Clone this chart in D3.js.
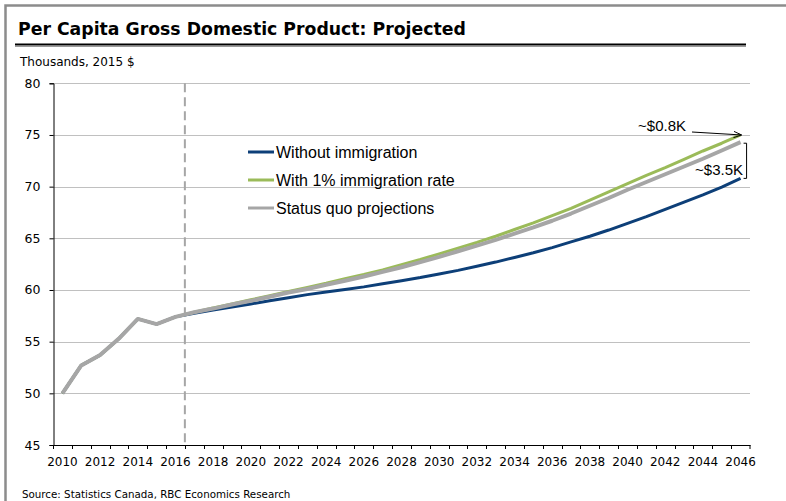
<!DOCTYPE html>
<html>
<head>
<meta charset="utf-8">
<script src="https://cdn.jsdelivr.net/npm/d3@7"></script>
<style>
  body { margin: 0; background: #fff; }
  text { font-family: "DejaVu Sans", sans-serif; }
  text.arial { font-family: "Liberation Sans", Arial, sans-serif; }
</style>
</head>
<body>
<div id="chart"></div>
<script>
// years on the category axis
var years = d3.range(2010, 2047);

// actuals 2010-2016, shared by all three lines
var actuals = [50.0, 52.7, 53.7, 55.3, 57.2, 56.7, 57.4];

// projections 2017-2046, thousands of 2015 $
var withoutImmigration = [57.75, 58.05, 58.35, 58.65, 58.95, 59.25, 59.55, 59.8, 60.05, 60.3,
    60.6, 60.9, 61.2, 61.55, 61.9, 62.3, 62.7, 63.15, 63.6, 64.1,
    64.65, 65.2, 65.8, 66.45, 67.1, 67.8, 68.5, 69.2, 69.95, 70.8];
var withImmigration = [57.85, 58.25, 58.65, 59.05, 59.45, 59.85, 60.25, 60.65, 61.1, 61.5,
    61.95, 62.45, 62.95, 63.5, 64.05, 64.6, 65.2, 65.85, 66.5, 67.2,
    67.9, 68.7, 69.5, 70.3, 71.1, 71.85, 72.65, 73.45, 74.2, 75.0];
var statusQuo = [57.85, 58.2, 58.6, 58.95, 59.35, 59.75, 60.1, 60.5, 60.9, 61.3,
    61.75, 62.2, 62.7, 63.2, 63.75, 64.3, 64.85, 65.45, 66.05, 66.7,
    67.4, 68.15, 68.9, 69.7, 70.45, 71.2, 71.95, 72.7, 73.5, 74.3];

var seriesNames = ["Without immigration", "With 1% immigration rate", "Status quo projections"];
var seriesColors = ["#0d3f78", "#9bbb59", "#a6a6a6"];
var seriesWidths = [3, 3, 4];
var yTicks = [45, 50, 55, 60, 65, 70, 75, 80];

var W = 786, H = 501;
var svg = d3.select("#chart").append("svg")
    .attr("width", W)
    .attr("height", H);

// outer frame (left + top)
svg.append("path")
    .attr("d", "M5.5," + H + "V5.5H" + W)
    .attr("fill", "none")
    .attr("stroke", "#8c8c8c")
    .attr("stroke-width", 2.5);

// title
svg.append("text")
    .attr("x", 18)
    .attr("y", 35)
    .attr("font-size", 17.3)
    .attr("font-weight", "bold")
    .attr("fill", "#000")
    .text("Per Capita Gross Domestic Product: Projected");

svg.append("line")
    .attr("x1", 15).attr("x2", 746)
    .attr("y1", 44.5).attr("y2", 44.5)
    .attr("stroke", "#000").attr("stroke-width", 2);
svg.append("line")
    .attr("x1", 15).attr("x2", 746)
    .attr("y1", 46.5).attr("y2", 46.5)
    .attr("stroke", "#999").attr("stroke-width", 1);

svg.append("text")
    .attr("x", 20)
    .attr("y", 66)
    .attr("font-size", 12)
    .text("Thousands, 2015 $");

svg.append("text")
    .attr("x", 22)
    .attr("y", 498)
    .attr("font-size", 10.3)
    .text("Source: Statistics Canada, RBC Economics Research");

// scales
var x = d3.scaleBand()
    .domain(years)
    .range([53, 750])
    .padding(0);
var y = d3.scaleLinear()
    .domain([45, 80])
    .range([445, 83.3]);
var cx = function(yr) { return x(yr) + x.bandwidth() / 2; };

// gridlines
svg.append("g")
    .selectAll("line")
    .data(yTicks.filter(function(t) { return t > 45; }))
    .enter().append("line")
        .attr("x1", 53).attr("x2", 750)
        .attr("y1", function(d) { return Math.round(y(d)) + 0.5; })
        .attr("y2", function(d) { return Math.round(y(d)) + 0.5; })
        .attr("stroke", "#c0c0c0")
        .attr("stroke-width", 1);

// projection start marker
svg.append("line")
    .attr("x1", x(2017)).attr("x2", x(2017))
    .attr("y1", y(80)).attr("y2", y(45))
    .attr("stroke", "#a6a6a6")
    .attr("stroke-width", 2)
    .attr("stroke-dasharray", "9,5");

// y axis
var yAxis = svg.append("g")
    .attr("transform", "translate(53.5,0)")
    .call(d3.axisLeft(y).tickValues(yTicks).tickSize(4).tickPadding(9));
yAxis.selectAll("text").attr("font-size", 12.5).attr("fill", "#000").attr("font-family", "DejaVu Sans");
yAxis.selectAll("line").attr("stroke", "#000");
yAxis.select(".domain").attr("stroke", "#000");

// x axis: labels every other year at category centres
var xAxis = svg.append("g")
    .attr("transform", "translate(0,445)")
    .call(d3.axisBottom(x)
        .tickValues(years.filter(function(d) { return d % 2 === 0; }))
        .tickSize(0)
        .tickPadding(12));
xAxis.selectAll("text").attr("font-size", 12).attr("fill", "#000").attr("font-family", "DejaVu Sans");
xAxis.select(".domain").attr("stroke", "#000");

// tick marks between categories
xAxis.selectAll(".bound")
    .data(years.concat([null]))
    .enter().append("line")
        .attr("class", "bound")
        .attr("x1", function(d) { return d === null ? 750 : Math.round(x(d)) + 0.5; })
        .attr("x2", function(d) { return d === null ? 750 : Math.round(x(d)) + 0.5; })
        .attr("y1", 0).attr("y2", 4)
        .attr("stroke", "#000");

// lines
var allSeries = [withoutImmigration, withImmigration, statusQuo].map(function(proj) {
    return actuals.concat(proj).map(function(v, i) { return { year: years[i], value: v }; });
});

var line = d3.line()
    .x(function(d) { return cx(d.year); })
    .y(function(d) { return y(d.value); });

svg.selectAll(".curve")
    .data(allSeries)
    .enter().append("path")
        .attr("class", "curve")
        .attr("fill", "none")
        .attr("stroke", function(d, i) { return seriesColors[i]; })
        .attr("stroke-width", function(d, i) { return seriesWidths[i]; })
        .attr("stroke-linejoin", "round")
        .attr("d", line);

// legend
var legend = svg.append("g")
    .selectAll("g")
    .data(seriesNames)
    .enter().append("g")
        .attr("transform", function(d, i) { return "translate(248," + (152 + i * 28) + ")"; });
legend.append("line")
    .attr("x1", 0).attr("x2", 26)
    .attr("stroke", function(d, i) { return seriesColors[i]; })
    .attr("stroke-width", 3);
legend.append("text")
    .attr("class", "arial")
    .attr("x", 28)
    .attr("y", 5.5)
    .attr("font-size", 16)
    .text(function(d) { return d; });

// annotations at the 2046 end
var last = years.length - 1;
var endX = cx(2046);
var gEnd = y(allSeries[1][last].value),
    sEnd = y(allSeries[2][last].value),
    bEnd = y(allSeries[0][last].value);

svg.append("defs").append("marker")
    .attr("id", "arrow")
    .attr("viewBox", "0 0 10 10")
    .attr("refX", 10).attr("refY", 5)
    .attr("markerWidth", 8).attr("markerHeight", 8)
    .attr("markerUnits", "userSpaceOnUse")
    .attr("orient", "auto")
    .append("path")
        .attr("d", "M0,1L10,5L0,9")
        .attr("fill", "none")
        .attr("stroke", "#000")
        .attr("stroke-width", 1.2);

svg.append("text")
    .attr("class", "arial")
    .attr("x", 686)
    .attr("y", 131)
    .attr("text-anchor", "end")
    .attr("font-size", 15)
    .text("~$0.8K");
svg.append("line")
    .attr("x1", 692).attr("y1", 132)
    .attr("x2", endX + 1).attr("y2", gEnd)
    .attr("stroke", "#000").attr("stroke-width", 1)
    .attr("marker-end", "url(#arrow)");

var bx = endX + 6;
svg.append("path")
    .attr("d", "M" + (bx - 3) + "," + (sEnd + 1) + "H" + bx + "V" + bEnd + "H" + (bx - 3))
    .attr("fill", "none")
    .attr("stroke", "#000")
    .attr("stroke-width", 1);
svg.append("text")
    .attr("class", "arial")
    .attr("x", 743)
    .attr("y", 175)
    .attr("text-anchor", "end")
    .attr("font-size", 15)
    .text("~$3.5K");
</script>
</body>
</html>
